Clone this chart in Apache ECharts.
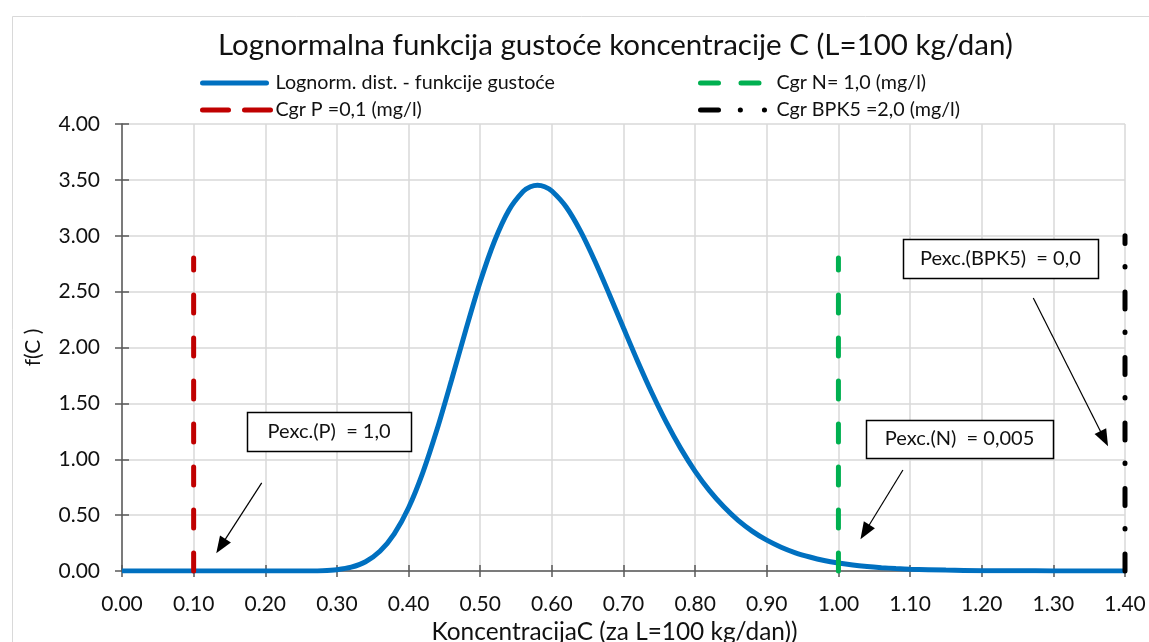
<!DOCTYPE html>
<html>
<head>
<meta charset="utf-8">
<script src="https://cdn.jsdelivr.net/npm/echarts@6/dist/echarts.min.js"></script>
<style>
html,body{margin:0;padding:0;background:#fff;overflow:hidden;}
#chart{width:1149px;height:642px;}
</style>
</head>
<body>
<div id="chart"></div>
<script>
// ---- data ----
const titleText = 'Lognormalna funkcija gustoće koncentracije C (L=100 kg/dan)';
const xAxisName = 'KoncentracijaC (za L=100 kg/dan))';
const yAxisName = 'f(C )';

const conc = [0, 0.10, 0.20, 0.26, 0.28, 0.30, 0.32, 0.34, 0.36, 0.38, 0.40, 0.42, 0.44, 0.46, 0.48,
  0.50, 0.52, 0.54, 0.56, 0.57, 0.58, 0.59, 0.60, 0.62, 0.64, 0.66, 0.68, 0.70, 0.72, 0.74, 0.76, 0.78,
  0.80, 0.82, 0.84, 0.86, 0.88, 0.90, 0.92, 0.94, 0.96, 0.98, 1.00, 1.02, 1.04, 1.06, 1.08,
  1.10, 1.15, 1.20, 1.25, 1.30, 1.40];
const density = [0, 0, 0, 0.001, 0.003, 0.012, 0.034, 0.083, 0.176, 0.333, 0.566, 0.883, 1.272, 1.709, 2.160,
  2.588, 2.953, 3.229, 3.397, 3.438, 3.452, 3.439, 3.400, 3.257, 3.041, 2.774, 2.479, 2.174, 1.873, 1.588, 1.327, 1.095,
  0.892, 0.719, 0.574, 0.453, 0.355, 0.276, 0.213, 0.163, 0.125, 0.094, 0.071, 0.053, 0.040, 0.030, 0.022,
  0.016, 0.008, 0.003, 0.002, 0.001, 0.000];

const curveName = 'Lognorm. dist. - funkcije gustoće';
const limitNames = ['Cgr P =0,1 (mg/l)', 'Cgr N= 1,0 (mg/l)', 'Cgr BPK5 =2,0 (mg/l)'];
const limitX = [0.1, 1.0, 1.4];
const limitTop = [2.8, 2.8, 3.0];

const annText = ['Pexc.(P)  = 1,0', 'Pexc.(N)  = 0,005', 'Pexc.(BPK5)  = 0,0'];
const annBox = [[0.289, 1.248], [1.169, 1.181], [1.226, 2.796]];
const annFrom = [[0.195, 0.788], [1.090, 0.904], [1.272, 2.443]];
const annTo = [[0.138, 0.223], [1.037, 0.349], [1.371, 1.184]];

const xTicks = {min: 0, max: 1.4, step: 0.1};
const yTicks = {min: 0, max: 4, step: 0.5};

// ---- styles ----
const FONT = 'Lato';
const boxSizes = [[164, 39], [187, 38], [195, 39]];
const limitColors = ['#C00000', '#00B050', '#000000'];
const limitDash = [[18, 25], [18, 25], [17, 25, 0.5, 23]];

const chart = echarts.init(document.getElementById('chart'), null, {renderer: 'canvas'});

const series = [{
  name: curveName,
  type: 'line',
  data: conc.map((c, i) => [c, density[i]]),
  symbol: 'none',
  smooth: 0.3,
  lineStyle: {color: '#0070C0', width: 5},
  itemStyle: {color: '#0070C0'},
  z: 3
}];
limitX.forEach((x, i) => {
  series.push({
    name: limitNames[i],
    type: 'line',
    data: [[x, 0], [x, limitTop[i]]],
    symbol: 'none',
    clip: false,
    lineStyle: {color: limitColors[i], width: 5, type: limitDash[i], cap: 'round'},
    itemStyle: {color: limitColors[i]},
    z: 4
  });
});
series.push({
  name: 'annotations',
  type: 'line',
  data: [],
  silent: true,
  z: 5,
  markLine: {
    silent: true,
    symbol: ['none', 'triangle'],
    symbolSize: [13, 17],
    label: {show: false},
    lineStyle: {color: '#000', width: 1.2, type: 'solid'},
    itemStyle: {color: '#000'},
    data: annFrom.map((f, i) => [{coord: f}, {coord: annTo[i]}])
  }
});

const legendText = {fontSize: 19.7, color: '#111', fontFamily: FONT};
function lg(name, left, top, width, dash) {
  return {
    data: [{name: name, lineStyle: {type: dash, cap: 'round', width: 5},
            itemStyle: {color: 'rgba(0,0,0,0)', opacity: 0, borderWidth: 0}}],
    left: left, top: top, itemWidth: width, itemHeight: 14,
    selectedMode: false, textStyle: legendText, padding: 0
  };
}

const borderRect = {
  type: 'rect', left: 10, top: 14, silent: true, z: -10,
  shape: {width: 1300, height: 800},
  style: {fill: 'none', stroke: '#d9d9d9', lineWidth: 1}
};

const option = {
  backgroundColor: '#fff',
  animation: false,
  textStyle: {fontFamily: FONT},
  title: {
    text: titleText,
    left: 213, top: 25,
    textStyle: {fontSize: 29.5, fontWeight: 'normal', color: '#111', fontFamily: FONT}
  },
  legend: [
    lg(curveName, 200, 73, 68, [64, 50]),
    lg(limitNames[0], 200, 100, 68, [26, 16, 26, 50]),
    lg(limitNames[1], 698, 73, 71, [18, 22.5, 18, 100]),
    lg(limitNames[2], 698, 100, 71, [18, 21.8, 0.1, 24, 0.1, 100])
  ],
  grid: {left: 122, right: 24, top: 124, bottom: 71, containLabel: false, outerBoundsMode: 'none'},
  xAxis: [{
    type: 'value', min: xTicks.min, max: xTicks.max, interval: xTicks.step,
    name: xAxisName, nameLocation: 'middle', nameGap: 45,
    nameTextStyle: {fontSize: 24.4, color: '#111', fontFamily: FONT, padding: [0, 18, 0, 0]},
    axisLine: {show: true, onZero: false, lineStyle: {color: '#595959', width: 1.5}},
    axisTick: {show: true, length: 6, lineStyle: {color: '#595959', width: 1.5}},
    axisLabel: {fontSize: 21, color: '#111', margin: 23, fontFamily: FONT, formatter: v => v.toFixed(2)},
    splitLine: {show: true, lineStyle: {color: '#d9d9d9', width: 1.5}}
  }, {
    type: 'value', min: xTicks.min, max: xTicks.max, interval: xTicks.step, position: 'bottom',
    axisLine: {show: false}, axisLabel: {show: false}, splitLine: {show: false},
    axisTick: {show: true, inside: true, length: 6, lineStyle: {color: '#595959', width: 1.5}}
  }],
  yAxis: [{
    type: 'value', min: yTicks.min, max: yTicks.max, interval: yTicks.step,
    name: yAxisName, nameLocation: 'middle', nameGap: 78, nameRotate: 90,
    nameTextStyle: {fontSize: 21, color: '#111', fontFamily: FONT},
    axisLine: {show: true, lineStyle: {color: '#595959', width: 1.5}},
    axisTick: {show: true, length: 7, lineStyle: {color: '#595959', width: 1.5}},
    axisLabel: {fontSize: 21, color: '#111', margin: 22, fontFamily: FONT, formatter: v => v.toFixed(2)},
    splitLine: {show: true, lineStyle: {color: '#d9d9d9', width: 1.5}}
  }, {
    type: 'value', min: yTicks.min, max: yTicks.max, interval: yTicks.step, position: 'left',
    axisLine: {show: false}, axisLabel: {show: false}, splitLine: {show: false},
    axisTick: {show: true, inside: true, length: 7, lineStyle: {color: '#595959', width: 1.5}}
  }],
  graphic: [borderRect],
  series: series
};
chart.setOption(option);

// annotation boxes placed through the grid's coordinate conversion
const gfx = [borderRect];
annBox.forEach((b, i) => {
  const p = chart.convertToPixel({gridIndex: 0}, b);
  const w = boxSizes[i][0], h = boxSizes[i][1];
  gfx.push({
    type: 'rect', silent: true, z: 100,
    shape: {x: Math.round(p[0] - w / 2) + 0.5, y: Math.round(p[1] - h / 2) + 0.5, width: w, height: h},
    style: {fill: '#fff', stroke: '#000', lineWidth: 1.5}
  });
  gfx.push({
    type: 'text', silent: true, z: 101, x: p[0], y: p[1],
    style: {text: annText[i], fill: '#111', font: '20px Lato', align: 'center', verticalAlign: 'middle',
            textAlign: 'center', textVerticalAlign: 'middle'}
  });
});
chart.setOption({graphic: gfx}, {replaceMerge: ['graphic']});
</script>
</body>
</html>
